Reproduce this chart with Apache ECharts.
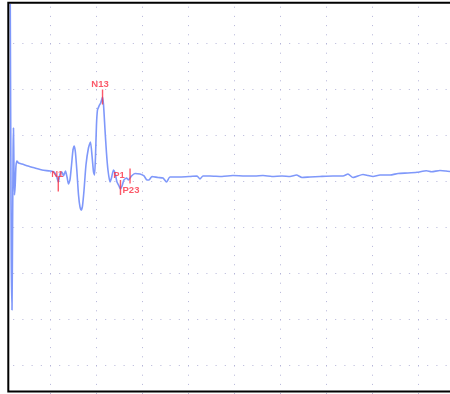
<!DOCTYPE html>
<html>
<head>
<meta charset="utf-8">
<script src="https://cdn.jsdelivr.net/npm/echarts@6/dist/echarts.min.js"></script>
<style>
  html, body { margin: 0; padding: 0; background: #fff; }
  #chart { width: 450px; height: 394px; }
</style>
</head>
<body>
<div id="chart"></div>
<script>
// Evoked response trace: time in ms (5 ms per division), amplitude in µV (1 µV per division)
const timeMs = [
  0.68, 0.74, 0.79, 0.87, 0.93, 0.99, 1.03, 1.08, 1.14,
  1.22, 1.30, 1.41, 1.58, 1.96, 2.61, 3.37, 4.13, 5.00, 5.43,
  5.71, 5.90, 6.09, 6.30, 6.47, 6.68, 6.85, 7.01, 7.17, 7.34,
  7.50, 7.64, 7.77, 7.93, 8.10, 8.26, 8.39, 8.53, 8.70, 8.91,
  9.18, 9.40, 9.57, 9.73, 9.84, 9.95, 10.05, 10.16, 10.33, 10.51,
  10.71, 10.82, 10.98, 11.14, 11.30, 11.52, 11.68, 11.90, 12.07, 12.28,
  12.50, 12.66, 12.83, 13.04, 13.32, 13.53, 13.86, 14.24, 14.78, 15.22,
  15.54, 15.76, 16.09, 16.74, 17.28, 17.66, 18.04, 19.13, 20.22, 20.98,
  21.30, 21.63, 22.39, 23.70, 24.89, 26.20, 27.28, 28.15, 29.13, 30.22,
  31.09, 31.79, 32.39, 33.26, 34.35, 35.76, 36.85, 37.39, 37.93, 39.02,
  39.57, 40.11, 40.87, 41.96, 42.83, 43.91, 44.89, 45.92, 46.47, 47.39,
  48.04, 48.48
];
const amplitudeUv = [
  3.859, 0.685, -1.707, -2.793, -1.054, 0.685, 1.163, 0.359, -0.293,
  -0.076, 0.337, 0.446, 0.402, 0.380, 0.337, 0.293, 0.250, 0.228, 0.207,
  0.120, -0.011, 0.163, 0.207, 0.120, 0.228, 0.098, -0.054, 0.033, 0.359,
  0.685, 0.772, 0.620, 0.207, -0.293, -0.554, -0.620, -0.533, -0.185, 0.359,
  0.728, 0.859, 0.554, 0.207, 0.141, 0.576, 1.228, 1.554, 1.641, 1.707,
  1.837, 1.663, 1.120, 0.620, 0.250, -0.011, 0.076, 0.250, 0.185, -0.011,
  -0.098, -0.163, -0.098, 0.033, 0.076, 0.033, 0.120, 0.174, 0.163, 0.120,
  0.033, 0.033, 0.109, 0.087, 0.076, -0.011, 0.098, 0.098, 0.109, 0.120,
  0.054, 0.120, 0.120, 0.109, 0.130, 0.120, 0.120, 0.130, 0.109, 0.120,
  0.109, 0.141, 0.087, 0.098, 0.109, 0.120, 0.120, 0.163, 0.087, 0.152,
  0.130, 0.109, 0.141, 0.141, 0.174, 0.185, 0.200, 0.233, 0.211, 0.239,
  0.228, 0.217
];

// Marked peaks
const peakNames = ['N1', 'N13', 'P1', 'P23'];
const peakTimeMs = [5.90, 10.71, 13.70, 12.66];
const peakAmplitudeUv = [-0.054, 1.837, 0.120, -0.130];

// Where each peak label sits relative to its tick mark
const peakLabelOffsets = {
  N1: [-1, -10],
  N13: [-2.5, -13],
  P1: [-11, -1],
  P23: [10.5, 3]
};

const traceData = timeMs.map((t, i) => [t, amplitudeUv[i]]);
const peakData = peakNames.map((name, i) => ({
  name: name,
  value: [peakTimeMs[i], peakAmplitudeUv[i]],
  label: { offset: peakLabelOffsets[name] }
}));

const gridDots = { color: '#b4b4d8', width: 1, type: [1, 8.2] };
const markRed = '#fa3044';

const chart = echarts.init(document.getElementById('chart'), null, { renderer: 'canvas' });
chart.setOption({
  animation: false,
  backgroundColor: '#ffffff',
  grid: {
    left: 4, right: -14, top: -2.5, bottom: -17.5,
    show: false, containLabel: false, outerBoundsMode: 'none'
  },
  xAxis: {
    type: 'value', min: 0, max: 50, interval: 5,
    axisLine: { show: false }, axisTick: { show: false }, axisLabel: { show: false },
    splitLine: { show: true, showMinLine: false, showMaxLine: false, lineStyle: gridDots }
  },
  yAxis: {
    type: 'value', min: -5, max: 4, interval: 1,
    axisLine: { show: false }, axisTick: { show: false }, axisLabel: { show: false },
    splitLine: { show: true, showMinLine: false, showMaxLine: false, lineStyle: gridDots }
  },
  series: [
    {
      type: 'line',
      data: traceData,
      showSymbol: false,
      smooth: 0.2,
      lineStyle: { color: '#7f98fa', width: 1.6 },
      z: 2
    },
    {
      type: 'scatter',
      data: peakData,
      symbol: 'rect',
      symbolSize: [1.4, 15],
      itemStyle: { color: markRed },
      label: {
        show: true,
        position: 'inside',
        formatter: '{b}',
        color: markRed,
        fontFamily: 'Liberation Sans, Arial, sans-serif',
        fontSize: 9.5,
        fontWeight: 'bold'
      },
      z: 3
    }
  ],
  graphic: [
    {
      type: 'rect', z: 100, silent: true,
      shape: { x: 0, y: 0, width: 7.5, height: 394 },
      style: { fill: '#ffffff' }
    },
    {
      type: 'rect', z: 101, silent: true,
      shape: { x: 8.3, y: 2.7, width: 460, height: 388.8 },
      style: { fill: null, stroke: '#000000', lineWidth: 2 }
    }
  ]
});
</script>
</body>
</html>
